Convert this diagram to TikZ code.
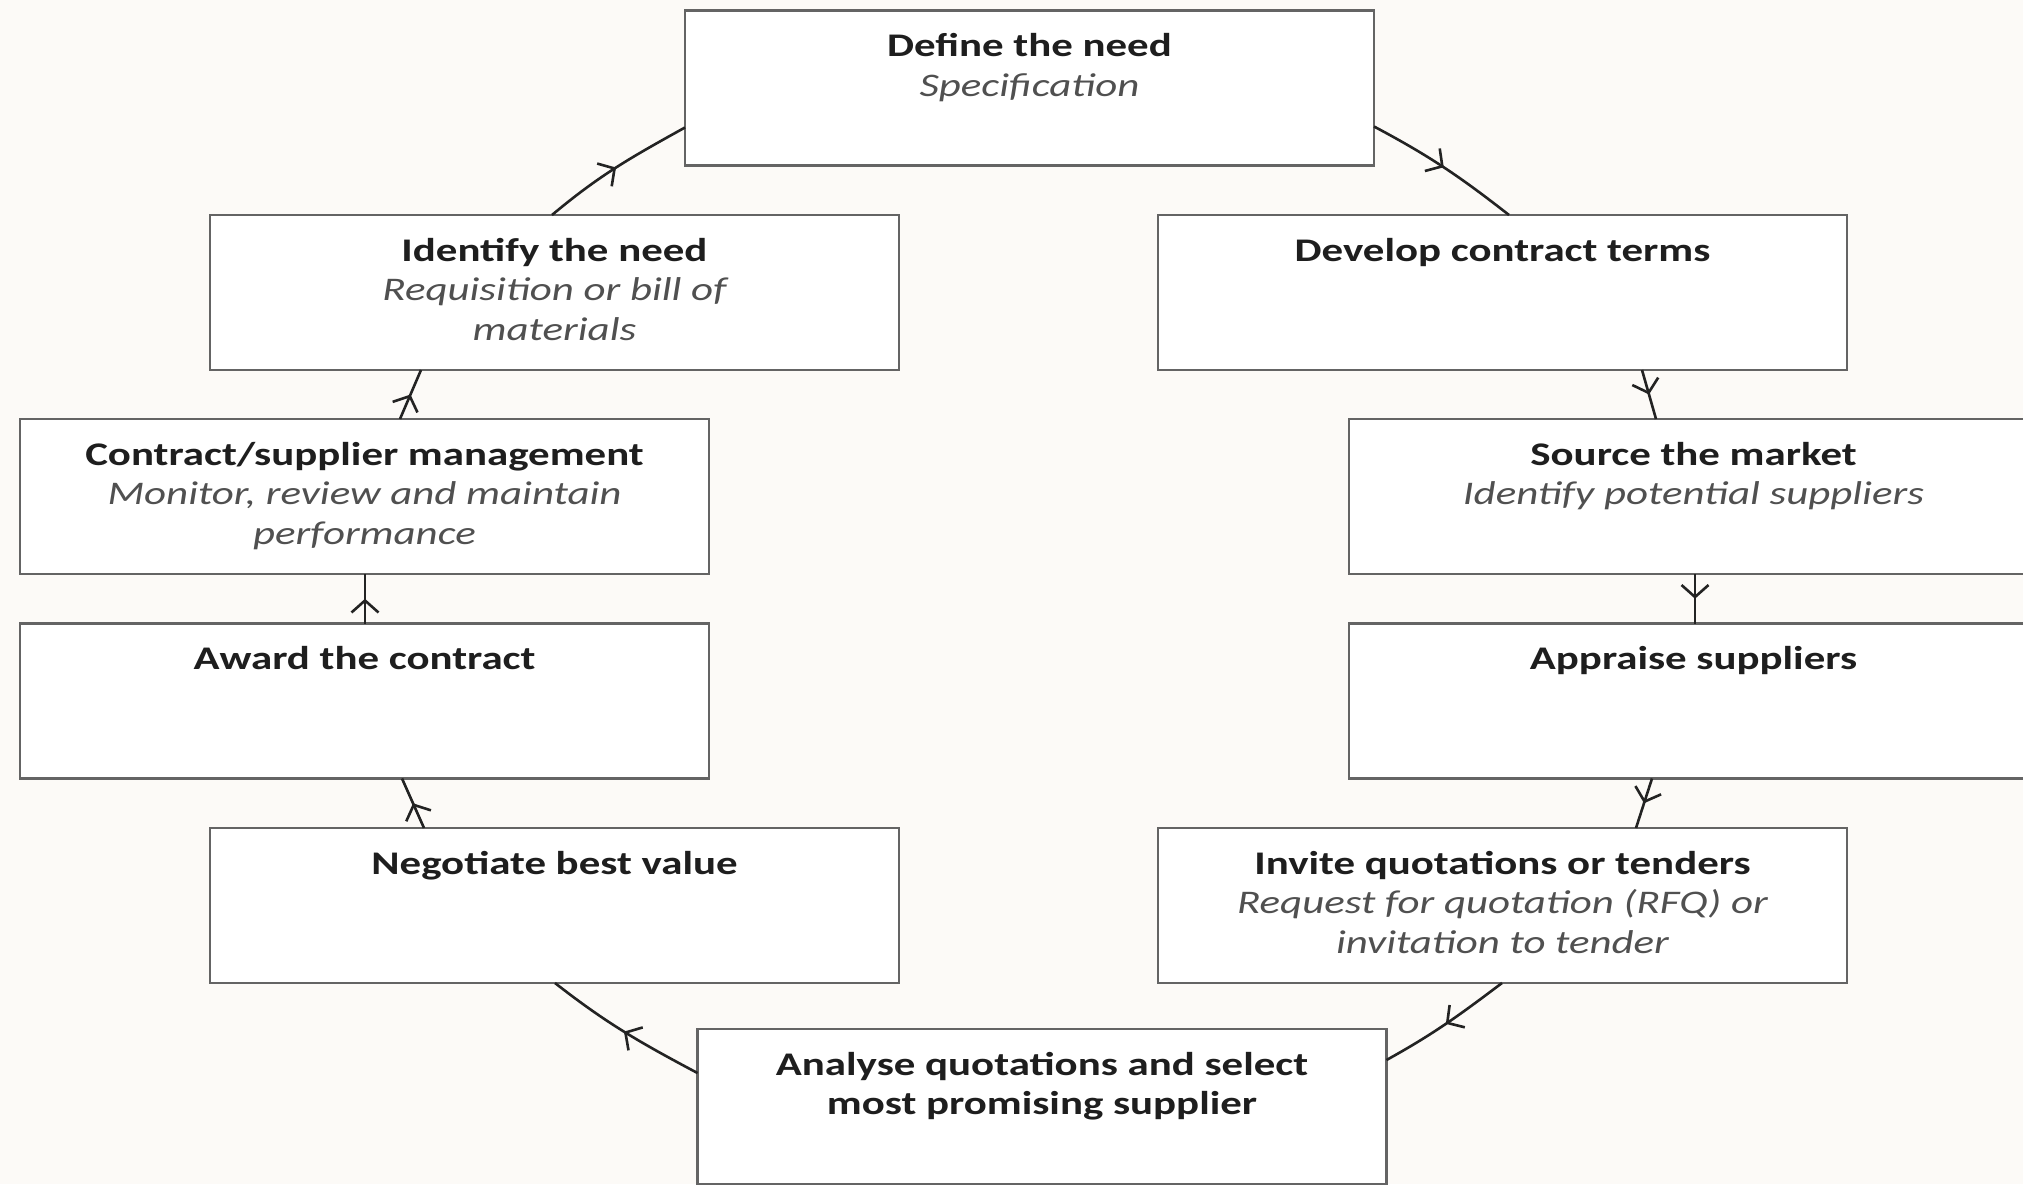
\documentclass[tikz,border=0pt]{standalone}
\usepackage{fontspec}
\setmainfont{Carlito}[FakeStretch=1.3]
\usetikzlibrary{calc,arrows.meta,decorations.markings}

\definecolor{bgcol}{RGB}{252,250,247}
\definecolor{boxline}{RGB}{100,100,100}
\definecolor{flowline}{RGB}{35,35,35}
\definecolor{titlecol}{RGB}{30,30,30}
\definecolor{notecol}{RGB}{80,80,80}

\newcommand{\stagetitle}[1]{\strut\textbf{#1}}
\newcommand{\stagenote}[1]{{\color{notecol}\itshape #1}}

\begin{document}
\begin{tikzpicture}[x=1pt,y=-1pt,
  stage/.style={draw=boxline, fill=white, line width=2.7pt,
    minimum width=689pt, minimum height=155pt, inner sep=0pt, outer sep=0pt},
  caption/.style={anchor=north, align=center, inner sep=0pt,
    font=\fontsize{33}{39.5}\selectfont, text=titlecol},
  flow/.style={draw=flowline, line width=2.6pt, postaction={decorate},
    decoration={markings, mark=at position 0.5 with
      {\arrow{Straight Barb[length=12pt,width=27pt,line width=2.6pt]}}}}]

% page and background
\useasboundingbox (0,0) rectangle (2023,1184);
\fill[bgcol] (0,0) rectangle (2023,1184);
\clip (0,0) rectangle (2023,1184);

% stages of the cycle
\node[stage] (b1)  at (1029.5,88)    {};
\node[stage] (b2)  at (554.5,292.5)  {};
\node[stage] (b3)  at (1502.5,292.5) {};
\node[stage] (b4)  at (364.5,496.5)  {};
\node[stage] (b5)  at (1693.5,496.5) {};
\node[stage] (b6)  at (364.5,701)    {};
\node[stage] (b7)  at (1693.5,701)   {};
\node[stage] (b8)  at (554.5,905.5)  {};
\node[stage] (b9)  at (1502.5,905.5) {};
\node[stage] (b10) at (1042,1106.5)  {};

% stage texts, first baseline about 46pt below the top edge
\node[caption] (t1) at ($(b1.north)+(0,18.6)$)
  {\stagetitle{Define the need}\\\stagenote{Specification}};
\node[caption] (t2) at ($(b2.north)+(0,18.6)$)
  {\stagetitle{Identify the need}\\\stagenote{Requisition or bill of}\\\stagenote{materials}};
\node[caption] (t3) at ($(b3.north)+(0,18.6)$)
  {\stagetitle{Develop contract terms}};
\node[caption] (t4) at ($(b4.north)+(0,18.6)$)
  {\stagetitle{Contract/supplier management}\\\stagenote{Monitor, review and maintain}\\\stagenote{performance}};
\node[caption] (t5) at ($(b5.north)+(0,18.6)$)
  {\stagetitle{Source the market}\\\stagenote{Identify potential suppliers}};
\node[caption] (t6) at ($(b6.north)+(0,18.6)$)
  {\stagetitle{Award the contract}};
\node[caption] (t7) at ($(b7.north)+(0,18.6)$)
  {\stagetitle{Appraise suppliers}};
\node[caption] (t8) at ($(b8.north)+(0,18.6)$)
  {\stagetitle{Negotiate best value}};
\node[caption] (t9) at ($(b9.north)+(0,18.6)$)
  {\stagetitle{Invite quotations or tenders}\\\stagenote{Request for quotation (RFQ) or}\\\stagenote{invitation to tender}};
\node[caption] (t10) at ($(b10.north)+(0,18.6)$)
  {\stagetitle{Analyse quotations and select}\\\stagetitle{most promising supplier}};

% connectors, clockwise round the cycle
\draw[flow] ($(b1.south east)+(0,-39)$) to[out=-28,in=142] ($(b3.north)+(6.5,0)$);
\draw[flow] ($(b3.south)+(139.5,0)$) -- ($(b5.north)+(-37.5,0)$);
\draw[flow] ($(b5.south)+(1.5,0)$) -- ($(b7.north)+(1.5,0)$);
\draw[flow] ($(b7.south)+(-41.5,0)$) -- ($(b9.north)+(133.5,0)$);
\draw[flow] ($(b9.south)+(-0.5,0)$) to[out=-143,in=29] ($(b10.north east)+(0,31)$);
\draw[flow] ($(b10.north west)+(0,44)$) to[out=152,in=-38] ($(b8.south)+(0.5,0)$);
\draw[flow] ($(b8.north)+(-130.5,0)$) -- ($(b6.south)+(37.5,0)$);
\draw[flow] ($(b6.north)+(0.5,0)$) -- ($(b4.south)+(0.5,0)$);
\draw[flow] ($(b4.north)+(35.5,0)$) -- ($(b2.south)+(-133.5,0)$);
\draw[flow] ($(b2.north)+(-2.5,0)$) to[out=40,in=209] ($(b1.south west)+(0,-38)$);

\end{tikzpicture}
\end{document}
